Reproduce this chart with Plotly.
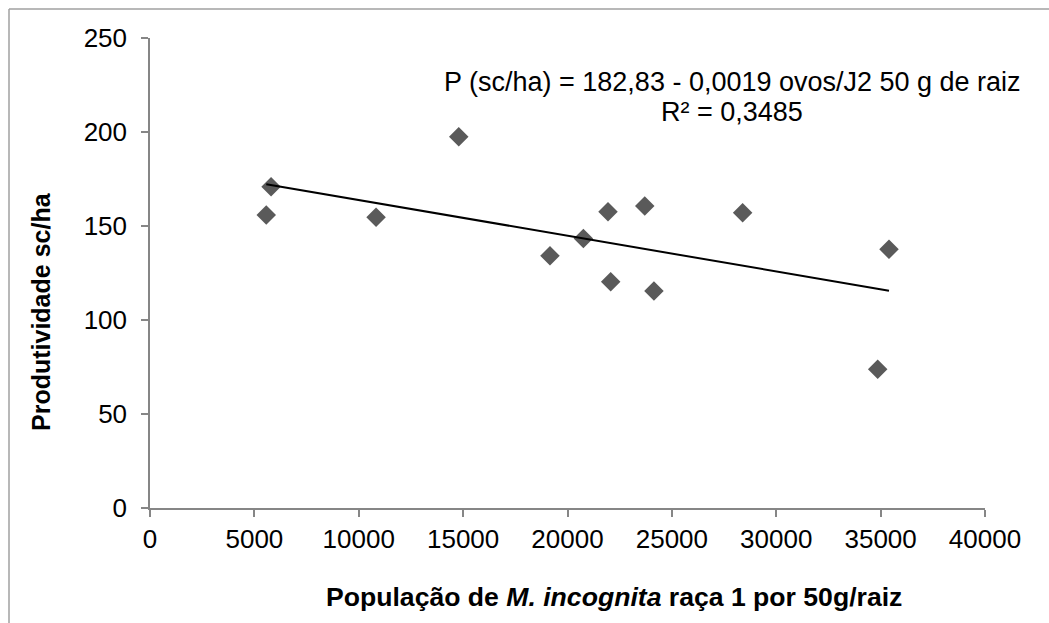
import plotly.graph_objects as go
import numpy as np

# Data
populacao = [5570, 5800, 10830, 14790, 19160, 20760, 21940, 22070, 23700, 24140, 28390, 34860, 35400]
produtividade = [155.9, 170.9, 154.6, 197.5, 134.2, 143.4, 157.6, 120.4, 160.6, 115.4, 157.1, 73.8, 137.6]

# Trendline coefficients as printed on the chart
intercepto = 182.83
inclinacao = -0.0019

x_ticks = [0, 5000, 10000, 15000, 20000, 25000, 30000, 35000, 40000]
y_ticks = [0, 50, 100, 150, 200, 250]

W, H = 1049, 623
L, R, T, B = 150, 64, 38, 115
pw, ph = W - L - R, H - T - B


def px_x(p):
    return (p - L) / pw


def px_y(p):
    return (H - B - p) / ph


FONT = "Liberation Sans, Arial, sans-serif"
AX = "#868686"

fig = go.Figure()

fig.add_trace(go.Scatter(
    x=populacao, y=produtividade, mode="markers",
    marker=dict(symbol="diamond", size=15, color="#5a5a5a", line=dict(width=0)),
    showlegend=False, hoverinfo="x+y",
))

tx = np.array([min(populacao), max(populacao)])
fig.add_trace(go.Scatter(
    x=tx, y=intercepto + inclinacao * tx, mode="lines",
    line=dict(color="black", width=2), showlegend=False, hoverinfo="skip",
))

fig.update_layout(
    width=W, height=H,
    margin=dict(l=L, r=R, t=T, b=B, pad=0),
    paper_bgcolor="white", plot_bgcolor="white",
    font=dict(family=FONT, size=26, color="black"),
    xaxis=dict(
        range=[0, 40000], tickvals=x_ticks, ticktext=[str(v) for v in x_ticks],
        showgrid=False, zeroline=False, showline=True, linecolor=AX, linewidth=1.5,
        ticks="outside", ticklen=7, tickwidth=1.5, tickcolor=AX,
        tickfont=dict(size=26, family=FONT, color="black"),
    ),
    yaxis=dict(
        range=[0, 250], tickvals=y_ticks, ticktext=[str(v) for v in y_ticks],
        showgrid=False, zeroline=False, showline=True, linecolor=AX, linewidth=1.5,
        ticks="outside", ticklen=7, tickwidth=1.5, tickcolor=AX,
        tickfont=dict(size=26, family=FONT, color="black"),
        ticklabelstandoff=9,
    ),
    annotations=[
        dict(text="P (sc/ha) = 182,83 - 0,0019 ovos/J2 50 g de raiz",
             xref="paper", yref="paper", x=px_x(732), y=px_y(82),
             xanchor="center", yanchor="middle", showarrow=False,
             font=dict(size=27, family=FONT, color="black")),
        dict(text="R² = 0,3485",
             xref="paper", yref="paper", x=px_x(732), y=px_y(112),
             xanchor="center", yanchor="middle", showarrow=False,
             font=dict(size=27, family=FONT, color="black")),
        dict(text="<b>População de <i>M. incognita</i> raça 1 por 50g/raiz</b>",
             xref="paper", yref="paper", x=px_x(614), y=px_y(597),
             xanchor="center", yanchor="middle", showarrow=False,
             font=dict(size=26.6, family=FONT, color="black")),
        dict(text="<b>Produtividade sc/ha</b>", textangle=-90,
             xref="paper", yref="paper", x=px_x(41), y=px_y(312),
             xanchor="center", yanchor="middle", showarrow=False,
             font=dict(size=25, family=FONT, color="black")),
    ],
    shapes=[
        dict(type="line", xref="paper", yref="paper",
             x0=px_x(9), y0=px_y(9), x1=px_x(1100), y1=px_y(9),
             line=dict(color="#a0a0a0", width=1.5)),
        dict(type="line", xref="paper", yref="paper",
             x0=px_x(9), y0=px_y(9), x1=px_x(9), y1=px_y(700),
             line=dict(color="#a0a0a0", width=1.5)),
    ],
)

fig.write_html("out.html", config={"displayModeBar": False},
               post_script="document.body.style.margin='0';document.body.style.overflow='hidden';")
